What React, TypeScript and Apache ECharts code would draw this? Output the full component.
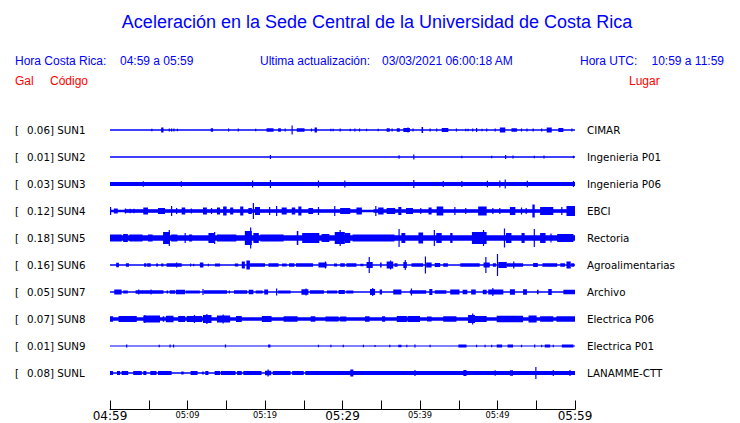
import React, { useEffect, useRef } from "react";
import * as echarts from "echarts";

// ---------- data ----------
const codes = ["SUN1", "SUN2", "SUN3", "SUN4", "SUN5", "SUN6", "SUN7", "SUN8", "SUN9", "SUNL"];
const gal = ["0.06", "0.01", "0.03", "0.12", "0.18", "0.16", "0.05", "0.07", "0.01", "0.08"];
const places = [
  "CIMAR", "Ingenieria P01", "Ingenieria P06", "EBCI", "Rectoria",
  "Agroalimentarias", "Archivo", "Electrica P06", "Electrica P01", "LANAMME-CTT",
];
const tickLabels = ["04:59", "05:09", "05:19", "05:29", "05:39", "05:49", "05:59"];
const majorLabels = ["04:59", "05:29", "05:59"];

// background half-amplitude of each trace
const baseHalf = [0.65, 0.65, 1.9, 1.2, 2.8, 0.7, 0.8, 1.7, 0.6, 0.8];

// events per trace: [startMinute, endMinute, halfAmplitude]
const sun1 = [
  [5.4, 5.4, 1.2], [6.6, 6.9, 2.5], [7.65, 7.65, 1.5], [7.95, 7.95, 1.5], [8.25, 8.25, 1.5], [8.7, 8.7, 1.2],
  [13.0, 13.3, 1.7], [15.3, 15.3, 1.5], [16.55, 16.55, 1.5], [18.8, 18.8, 1.2], [20.2, 21.1, 1.8],
  [21.7, 22.05, 1.8], [22.6, 22.6, 1.5], [23.5, 23.5, 4.5], [24.1, 25.1, 1.8], [26.0, 26.0, 1.5],
  [26.4, 26.7, 2.5], [28.5, 28.5, 1.2], [28.8, 28.8, 1.2], [29.7, 29.7, 1.5], [31.0, 31.0, 1.2],
  [31.6, 31.6, 1.5], [32.2, 32.2, 1.5], [33.1, 33.1, 1.2], [34.6, 34.6, 1.2], [35.7, 36.1, 1.8],
  [36.4, 36.4, 1.5], [37.0, 37.4, 1.8], [37.85, 38.7, 2.0], [38.4, 38.5, 2.5], [39.1, 39.1, 1.5],
  [40.2, 40.4, 3.0], [41.3, 41.3, 1.5], [42.15, 42.15, 1.5], [42.8, 43.65, 2.0], [44.7, 44.7, 1.5],
  [45.9, 45.9, 1.2], [46.2, 46.2, 1.2], [46.8, 46.8, 1.5], [47.3, 47.3, 2.0], [48.0, 48.0, 1.2],
  [48.6, 48.6, 1.5], [49.7, 49.7, 1.5], [50.3, 51.0, 2.5], [51.8, 52.5, 1.8], [53.1, 53.1, 1.5],
  [53.8, 53.8, 1.5], [54.6, 54.6, 1.5], [55.7, 55.7, 1.5], [56.35, 57.0, 2.5], [57.85, 58.5, 2.0],
  [59.6, 59.6, 1.5],
];
const sun2 = [
  [20.7, 20.7, 2.0], [37.3, 37.3, 1.8], [39.2, 39.2, 2.5], [45.4, 45.4, 1.2], [49.25, 49.25, 1.2],
  [51.05, 51.05, 2.0], [52.0, 52.0, 1.5], [54.75, 54.75, 1.2], [56.0, 56.0, 1.5], [59.8, 59.8, 1.2],
];
const sun3 = [
  [4.3, 4.3, 2.8], [9.2, 9.2, 2.8], [18.4, 18.4, 3.5], [20.7, 20.7, 4.0], [26.9, 26.9, 3.5],
  [30.3, 30.3, 3.5], [39.2, 39.2, 4.0], [43.0, 43.0, 3.0], [45.4, 45.4, 3.0], [48.7, 48.7, 3.2],
  [50.3, 50.3, 3.5], [51.0, 51.0, 4.5], [53.85, 53.85, 3.2], [59.8, 59.8, 3.0],
];
const sun4 = [
  [0.0, 0.15, 4.0], [0.5, 1.0, 2.5], [1.9, 32.5, 1.8], [34.0, 60.0, 1.8], [2.0, 2.0, 2.5], [2.6, 2.6, 2.2],
  [3.1, 3.1, 2.2], [4.3, 4.9, 3.5], [6.2, 7.1, 3.0], [7.95, 7.95, 5.0], [8.6, 8.6, 3.0],
  [9.25, 9.7, 3.5], [10.5, 10.5, 2.5], [12.0, 12.5, 3.5], [13.1, 13.1, 3.0], [13.8, 14.2, 3.5],
  [14.6, 15.05, 4.5], [15.5, 15.9, 3.5], [16.8, 17.2, 4.5], [17.85, 18.3, 3.0], [18.5, 18.5, 8.0],
  [18.7, 19.35, 4.0], [20.6, 20.6, 4.0], [21.5, 21.5, 5.0], [22.15, 22.8, 3.5], [23.45, 23.9, 3.5],
  [24.3, 24.7, 4.5], [25.6, 26.2, 3.0], [26.9, 26.9, 4.0], [29.0, 29.0, 5.0], [29.7, 31.0, 3.0],
  [31.8, 32.5, 3.5], [34.3, 34.3, 5.0], [34.6, 35.3, 3.5], [35.7, 36.8, 3.0], [37.2, 37.6, 4.0],
  [38.2, 39.1, 3.0], [40.1, 40.1, 3.0], [41.1, 41.5, 3.5], [42.15, 43.0, 4.5], [44.5, 44.5, 4.0],
  [45.9, 45.9, 3.0], [47.5, 48.6, 4.5], [49.4, 49.4, 3.0], [50.3, 50.3, 3.0], [51.6, 52.3, 4.0],
  [53.1, 53.1, 3.5], [53.7, 53.7, 3.0], [54.5, 54.8, 6.5], [55.5, 57.2, 4.0], [58.3, 58.3, 4.0],
  [58.9, 60.0, 5.0],
];
const sun5 = [
  [0.0, 1.5, 3.5], [1.7, 2.3, 4.0], [2.5, 4.2, 3.5], [4.9, 5.5, 3.5], [6.85, 7.7, 6.0], [7.65, 7.65, 8.0],
  [7.9, 8.7, 3.5], [9.7, 9.7, 5.0], [10.2, 10.6, 3.5], [12.7, 13.5, 5.0], [13.5, 13.5, 6.0],
  [13.8, 16.3, 3.5], [17.4, 18.3, 7.0], [18.15, 18.15, 10.5], [18.5, 19.2, 5.0], [19.4, 22.4, 3.5],
  [24.1, 24.3, 7.0], [24.8, 27.0, 5.0], [27.3, 28.3, 4.0], [29.0, 30.3, 6.0], [29.7, 29.7, 8.0],
  [30.3, 31.0, 5.0], [31.3, 36.7, 3.5], [37.3, 37.3, 9.0], [37.6, 38.1, 5.0], [39.8, 40.4, 5.5],
  [41.85, 41.85, 8.0], [42.1, 42.8, 5.0], [43.9, 44.2, 5.0], [46.7, 48.6, 6.0], [48.2, 48.2, 8.0],
  [50.9, 50.9, 9.5], [51.1, 51.8, 5.0], [53.1, 53.5, 5.0], [54.75, 54.75, 9.0], [55.5, 56.2, 5.0],
  [56.9, 56.9, 4.5], [57.7, 59.8, 4.0],
];
const sun6 = [
  [0.8, 1.15, 2.2], [2.05, 2.45, 1.8], [4.4, 4.7, 1.8], [4.8, 5.25, 1.8], [5.95, 6.2, 1.5], [6.6, 6.9, 1.5],
  [7.3, 9.25, 1.8], [8.6, 8.6, 2.5], [10.4, 10.4, 1.5], [10.8, 10.8, 1.2], [11.6, 12.05, 2.5],
  [12.7, 12.7, 1.2], [13.55, 14.2, 1.5], [16.1, 16.55, 1.5], [17.0, 17.4, 3.5], [17.6, 18.05, 4.5],
  [18.05, 20.0, 1.8], [20.45, 21.75, 1.8], [22.2, 22.8, 1.5], [23.1, 23.8, 1.8], [24.0, 26.2, 1.8],
  [26.9, 27.95, 2.5], [27.8, 27.8, 3.5], [28.9, 29.3, 1.5], [29.7, 30.3, 1.8], [30.5, 31.8, 1.8],
  [32.3, 32.7, 1.2], [33.1, 33.9, 3.0], [33.45, 33.45, 8.0], [34.85, 35.05, 2.5], [35.7, 36.55, 3.5],
  [36.2, 36.2, 4.5], [36.7, 37.1, 1.8], [37.85, 38.3, 3.0], [38.1, 38.1, 5.0], [38.9, 40.4, 1.8],
  [40.7, 40.7, 8.5], [40.8, 41.5, 2.5], [41.9, 42.6, 2.0], [43.0, 43.6, 1.8], [45.2, 47.7, 1.8],
  [48.2, 49.0, 2.5], [48.5, 48.5, 8.0], [49.4, 49.8, 1.8], [50.0, 50.0, 11.0], [50.1, 51.2, 3.0],
  [51.2, 53.3, 1.8], [52.1, 52.1, 3.5], [54.6, 55.2, 2.0], [55.8, 57.7, 1.8], [58.1, 58.7, 1.8],
  [58.9, 59.45, 3.5], [59.5, 59.9, 1.8],
];
const sun7 = [
  [0.55, 1.5, 2.5], [1.7, 2.3, 1.5], [3.3, 6.9, 1.8], [3.7, 3.7, 2.5], [5.3, 5.3, 2.5], [7.3, 7.5, 1.5],
  [7.7, 8.4, 1.8], [8.5, 9.7, 2.2], [9.8, 11.6, 1.5], [12.0, 12.0, 3.0], [12.1, 15.1, 1.8],
  [15.4, 15.4, 1.5], [16.0, 17.7, 1.8], [17.9, 18.5, 2.2], [18.8, 19.7, 1.5], [19.9, 20.4, 2.5],
  [21.5, 21.5, 3.5], [21.7, 23.3, 1.5], [24.7, 25.6, 2.8], [25.3, 25.3, 3.5], [25.8, 27.6, 1.8],
  [28.0, 29.3, 1.5], [29.5, 30.3, 2.0], [30.5, 31.4, 1.5], [33.55, 34.2, 3.0], [33.9, 33.9, 4.0],
  [34.8, 35.1, 2.5], [36.55, 37.6, 2.5], [38.7, 40.8, 1.8], [38.9, 38.9, 3.5], [41.2, 41.6, 3.0],
  [41.9, 43.4, 1.8], [43.9, 45.1, 2.5], [45.5, 46.1, 2.2], [46.6, 47.2, 2.5], [48.1, 48.6, 2.2],
  [48.8, 50.75, 2.5], [49.4, 49.4, 4.0], [51.6, 52.25, 2.8], [53.3, 53.8, 2.8], [55.1, 55.3, 2.2],
  [56.55, 57.0, 3.0], [58.5, 60.0, 2.2],
];
const sun8 = [
  [0.0, 0.4, 2.8], [1.1, 3.45, 3.0], [4.3, 6.45, 3.5], [4.5, 4.5, 4.0], [6.8, 7.0, 2.8], [7.2, 8.2, 3.2],
  [8.8, 9.7, 3.0], [9.9, 11.9, 3.0], [10.9, 10.9, 4.0], [12.0, 13.1, 4.0], [12.5, 12.5, 5.0],
  [13.8, 15.5, 3.5], [14.6, 14.6, 4.5], [16.25, 17.0, 3.0], [19.6, 20.85, 3.0], [22.4, 24.2, 2.8],
  [25.9, 26.5, 2.8], [27.8, 29.5, 2.5], [29.7, 30.5, 2.5], [32.9, 33.5, 2.8], [35.1, 35.5, 2.8],
  [37.0, 38.3, 3.0], [38.4, 40.0, 3.0], [40.9, 41.5, 2.5], [43.0, 44.7, 2.8], [46.2, 47.1, 4.0],
  [46.8, 46.8, 5.5], [47.1, 48.6, 3.0], [49.9, 53.3, 3.2], [54.0, 55.05, 3.5], [55.5, 57.2, 2.8],
  [57.6, 60.0, 2.8],
];
const sun9 = [
  [2.15, 2.15, 1.5], [6.35, 6.35, 1.2], [7.75, 7.75, 1.5], [8.2, 8.2, 1.5], [14.9, 14.9, 1.5],
  [20.4, 20.7, 1.5], [26.9, 26.9, 1.2], [28.5, 28.5, 1.2], [30.1, 30.1, 1.2], [32.7, 32.7, 1.2],
  [34.2, 34.2, 1.0], [36.1, 36.1, 1.2], [37.2, 37.6, 1.2], [38.3, 38.3, 1.2], [39.35, 39.35, 1.5],
  [41.3, 41.3, 1.2], [44.95, 46.0, 1.5], [47.3, 47.3, 1.2], [48.4, 48.4, 1.2], [49.25, 49.25, 1.2],
  [49.9, 50.6, 1.5], [51.3, 52.0, 1.5], [53.1, 53.1, 1.2], [54.8, 54.8, 1.5], [55.7, 55.7, 1.2],
  [56.1, 56.8, 1.5], [57.2, 57.2, 1.2], [58.3, 59.8, 1.5],
];
const sunL = [
  [0.0, 0.4, 2.0], [0.9, 1.3, 2.0], [1.5, 2.35, 2.0], [3.0, 4.1, 2.0], [4.3, 4.7, 2.0], [5.2, 6.0, 2.0],
  [6.2, 7.95, 2.0], [9.2, 9.5, 1.5], [10.4, 11.3, 2.0], [11.9, 12.1, 1.5], [12.3, 12.7, 2.0],
  [13.5, 14.2, 2.0], [14.3, 16.2, 2.0], [16.4, 17.0, 2.0], [17.2, 19.55, 2.0], [20.0, 20.8, 2.2],
  [20.4, 20.4, 3.5], [21.0, 23.3, 2.0], [23.5, 25.0, 2.0], [25.2, 60.0, 2.0], [31.0, 31.4, 3.5],
  [39.35, 39.35, 3.0], [45.6, 46.0, 3.0], [49.7, 49.7, 2.8], [51.6, 52.0, 2.8], [54.95, 54.95, 6.0],
  [57.2, 57.2, 3.0], [59.35, 59.35, 3.0],
];
const traces = [sun1, sun2, sun3, sun4, sun5, sun6, sun7, sun8, sun9, sunL];

const SPACING = 27;
const BLUE = "#0000ff";
const RED = "#ff0000";
const SANS = '"Liberation Sans", Arial, sans-serif';
const DEJAVU = '"DejaVu Sans", sans-serif';

function buildOption() {
  const series = traces.map((events, i) => {
    const data = [[0, 60, baseHalf[i], i * SPACING]].concat(
      events.map((e) => [e[0], e[1], e[2], i * SPACING])
    );
    return {
      type: "custom",
      name: codes[i],
      xAxisIndex: 0,
      yAxisIndex: 0,
      clip: true,
      encode: { x: [0, 1], y: 3 },
      data,
      renderItem: (params: any, api: any) => {
        const t0 = api.value(0);
        const t1 = api.value(1);
        const h = api.value(2);
        const c = api.value(3);
        const p0 = api.coord([t0, c - h]);
        const p1 = api.coord([t1, c + h]);
        let x = Math.min(p0[0], p1[0]);
        let w = Math.abs(p1[0] - p0[0]);
        if (w < 1.2) {
          x = (p0[0] + p1[0]) / 2 - 0.6;
          w = 1.2;
        }
        const y = Math.min(p0[1], p1[1]);
        const hh = Math.max(Math.abs(p1[1] - p0[1]), 1);
        return {
          type: "rect",
          shape: { x, y, width: w, height: hh },
          style: { fill: BLUE },
        };
      },
    };
  });

  const txt = (text: string, x: number, y: number, color: string, size: number, align = "left") => ({
    type: "text",
    x,
    y,
    style: {
      text,
      fill: color,
      font: `${size}px ${SANS}`,
      textAlign: align,
      textVerticalAlign: "middle",
      align,
      verticalAlign: "middle",
    },
  });

  return {
    animation: false,
    backgroundColor: "#ffffff",
    grid: {
      left: 110,
      right: 165,
      top: 116.5,
      height: 270,
      containLabel: false,
      outerBoundsMode: "none",
    },
    xAxis: [
      {
        type: "value",
        min: 0,
        max: 60,
        interval: 5,
        position: "bottom",
        offset: 23,
        splitLine: { show: false },
        axisLine: { show: true, onZero: false, lineStyle: { color: "#000", width: 1 } },
        axisTick: { show: true, inside: true, length: 9, lineStyle: { color: "#000", width: 1 } },
        axisLabel: {
          show: true,
          margin: 1,
          color: "#000",
          formatter: (v: number) => {
            const m = Math.round(v);
            if (m % 10 !== 0) return "";
            const lbl = tickLabels[m / 10];
            return majorLabels.includes(lbl) ? `{big|${lbl}}` : `{small|${lbl}}`;
          },
          rich: {
            big: { fontSize: 12, fontFamily: DEJAVU, color: "#000", lineHeight: 10 },
            small: { fontSize: 8.3, fontFamily: DEJAVU, color: "#000", lineHeight: 9 },
          },
        },
      },
    ],
    yAxis: [
      {
        type: "value",
        min: -SPACING / 2,
        max: SPACING * 10 - SPACING / 2,
        inverse: true,
        show: false,
      },
      {
        type: "category",
        data: codes,
        inverse: true,
        position: "left",
        axisLine: { show: false },
        axisTick: { show: false },
        splitLine: { show: false },
        axisLabel: {
          interval: 0,
          margin: 95,
          align: "left",
          formatter: (v: string, i: number) => `{b|[}{v|${gal[i]}] ${v}}`,
          rich: {
            b: { width: 12, fontSize: 10.3, fontFamily: DEJAVU, color: "#000" },
            v: { fontSize: 10.3, fontFamily: DEJAVU, color: "#000" },
          },
        },
      },
      {
        type: "category",
        data: places,
        inverse: true,
        position: "right",
        axisLine: { show: false },
        axisTick: { show: false },
        splitLine: { show: false },
        axisLabel: {
          interval: 0,
          margin: 12,
          align: "left",
          fontSize: 10.3,
          fontFamily: DEJAVU,
          color: "#000",
        },
      },
    ],
    graphic: [
      txt("Aceleración en la Sede Central de la Universidad de Costa Rica", 377, 22, BLUE, 18, "center"),
      txt("Hora Costa Rica:", 15, 61, BLUE, 12),
      txt("04:59 a 05:59", 120, 61, BLUE, 12),
      txt("Ultima actualización:", 260, 61, BLUE, 12),
      txt("03/03/2021 06:00:18 AM", 382, 61, BLUE, 12),
      txt("Hora UTC:", 580, 61, BLUE, 12),
      txt("10:59 a 11:59", 724, 61, BLUE, 12, "right"),
      txt("Gal", 15, 81, RED, 12),
      txt("Código", 50, 81, RED, 12),
      txt("Lugar", 629, 81, RED, 12),
    ],
    series,
  };
}

export default function App() {
  const ref = useRef<HTMLDivElement>(null);
  useEffect(() => {
    if (!ref.current) return;
    const chart = echarts.init(ref.current, undefined, { renderer: "svg" });
    chart.setOption(buildOption() as any);
    return () => chart.dispose();
  }, []);
  return (
    <div
      ref={ref}
      style={{ position: "fixed", left: 0, top: 0, width: 740, height: 423, background: "#fff" }}
    />
  );
}
